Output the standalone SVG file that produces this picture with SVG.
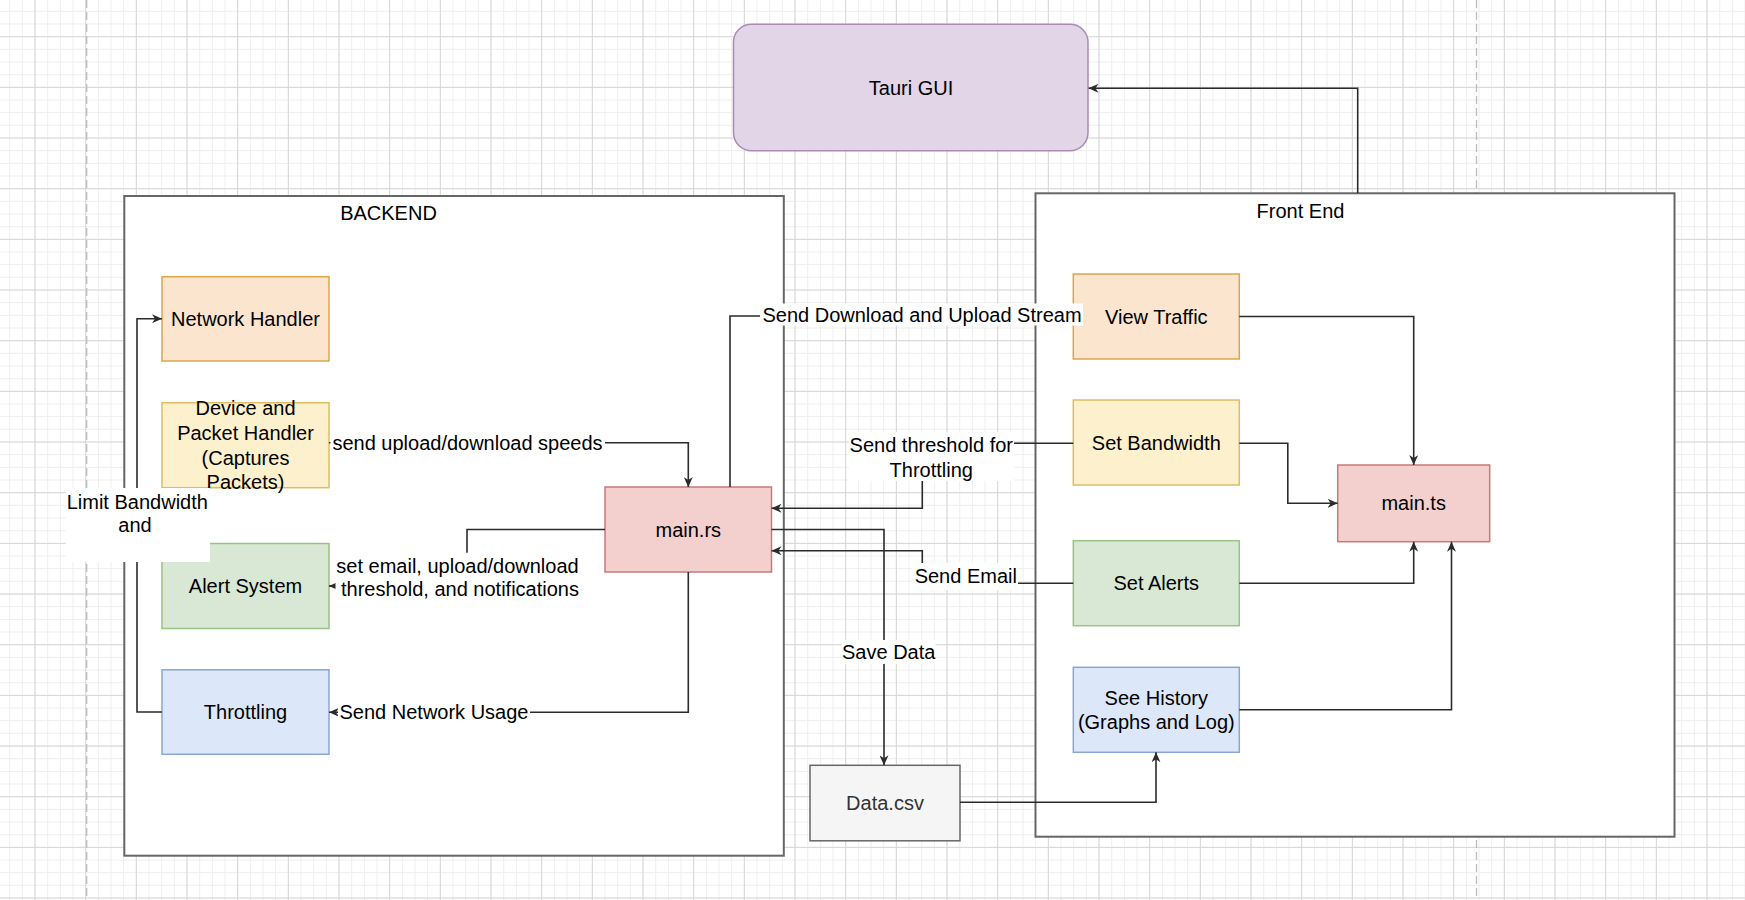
<svg xmlns="http://www.w3.org/2000/svg" width="1745" height="900" viewBox="0 0 1745 900">
  <style>
    text { font-family: "Liberation Sans", Arial, Helvetica, sans-serif; font-size: 20px; fill: #000; }
    .c { text-anchor: middle; }
    .container { fill: #ffffff; stroke: #666666; stroke-width: 2; }
    .orange { fill: #fbe5cf; stroke: #dba54c; stroke-width: 1.5; }
    .yellow { fill: #fdf1cd; stroke: #dcbd62; stroke-width: 1.5; }
    .green { fill: #d9e8d5; stroke: #9ac186; stroke-width: 1.5; }
    .blue { fill: #dce7f9; stroke: #8aa6d3; stroke-width: 1.5; }
    .red { fill: #f3cfcd; stroke: #c97a77; stroke-width: 1.5; }
    .purple { fill: #e1d5e7; stroke: #a98bb8; stroke-width: 1.5; }
    .gray { fill: #f5f5f5; stroke: #666666; stroke-width: 1.5; }
    .edge { fill: none; stroke: #2b2b2b; stroke-width: 1.6; }
    .arrow { marker-end: url(#arr); }
    .lbl { fill: #ffffff; stroke: none; }
    .pageline { stroke: #bdbdbd; stroke-width: 1.3; stroke-dasharray: 8 4; }
  </style>
  <defs>
    <pattern id="gMinor" patternUnits="userSpaceOnUse" x="9.17" y="10.83" width="12.667" height="12.667">
      <path d="M0 0.5H12.667M0.5 0V12.667" stroke="#eeeeee" stroke-width="1" fill="none"/>
    </pattern>
    <pattern id="gMajor" patternUnits="userSpaceOnUse" x="34.5" y="36.2" width="50.667" height="50.667">
      <path d="M0 0.5H50.667M0.5 0V50.667" stroke="#d6d6d6" stroke-width="1" fill="none"/>
    </pattern>
    <marker id="arr" markerUnits="userSpaceOnUse" viewBox="0 0 10 9" refX="10" refY="4.5" markerWidth="10" markerHeight="9" orient="auto">
      <path d="M0,0 L10,4.5 L0,9 L3,4.5 Z" fill="#2b2b2b"/>
    </marker>
  </defs>

  <g id="background">
    <rect x="0" y="0" width="1745" height="900" fill="#ffffff"/>
    <rect x="0" y="0" width="1745" height="900" fill="url(#gMinor)"/>
    <rect x="0" y="0" width="1745" height="900" fill="url(#gMajor)"/>
    <line class="pageline" x1="86.7" y1="0" x2="86.7" y2="900"/>
    <line class="pageline" x1="1476.5" y1="0" x2="1476.5" y2="900"/>
  </g>

  <g id="backend">
    <rect class="container" x="124.3" y="196" width="659.5" height="659.7"/>
    <text class="c" x="388.5" y="220">BACKEND</text>
  </g>
  <g id="frontend">
    <rect class="container" x="1035.5" y="193.3" width="639" height="643.4"/>
    <text class="c" x="1300.5" y="217.7">Front End</text>
  </g>

  <g id="tauri-gui">
    <rect class="purple" x="733.5" y="24.3" width="354.5" height="126.5" rx="18" ry="18"/>
    <text class="c" x="911" y="95">Tauri GUI</text>
  </g>

  <g id="network-handler">
    <rect class="orange" x="162" y="276.7" width="167" height="84.3"/>
    <text class="c" x="245.5" y="325.7">Network Handler</text>
  </g>
  <g id="device-packet-handler">
    <rect class="yellow" x="162" y="402.7" width="167" height="85"/>
    <text class="c" x="245.5" y="415">Device and</text>
    <text class="c" x="245.5" y="440">Packet Handler</text>
    <text class="c" x="245.5" y="465">(Captures</text>
    <text class="c" x="245.5" y="489">Packets)</text>
  </g>
  <g id="alert-system">
    <rect class="green" x="162" y="543.5" width="167" height="85"/>
    <text class="c" x="245.5" y="593">Alert System</text>
  </g>
  <g id="throttling">
    <rect class="blue" x="162" y="669.8" width="167" height="84.5"/>
    <text class="c" x="245.5" y="719">Throttling</text>
  </g>
  <g id="main-rs">
    <rect class="red" x="605" y="487" width="166.5" height="85"/>
    <text class="c" x="688.3" y="536.5">main.rs</text>
  </g>
  <g id="data-csv">
    <rect class="gray" x="810" y="765.3" width="150" height="75.5"/>
    <text class="c" x="885" y="810" style="fill:#333333">Data.csv</text>
  </g>
  <g id="view-traffic">
    <rect class="orange" x="1073.3" y="274" width="166" height="85"/>
    <text class="c" x="1156.3" y="323.5">View Traffic</text>
  </g>
  <g id="set-bandwidth">
    <rect class="yellow" x="1073.3" y="400" width="166" height="85"/>
    <text class="c" x="1156.3" y="449.5">Set Bandwidth</text>
  </g>
  <g id="set-alerts">
    <rect class="green" x="1073.3" y="540.7" width="166" height="85"/>
    <text class="c" x="1156.3" y="590.2">Set Alerts</text>
  </g>
  <g id="see-history">
    <rect class="blue" x="1073.3" y="667.3" width="166" height="85"/>
    <text class="c" x="1156.3" y="705.3">See History</text>
    <text class="c" x="1156.3" y="729.3">(Graphs and Log)</text>
  </g>
  <g id="main-ts">
    <rect class="red" x="1337.7" y="465" width="152" height="76.7"/>
    <text class="c" x="1413.7" y="510.3">main.ts</text>
  </g>

  <g id="connectors">
    <path class="edge arrow" d="M1357.7,193.3 V88.3 H1088.5"/>
    <path class="edge arrow" d="M1239.3,316.5 H1413.7 V465"/>
    <path class="edge arrow" d="M1239.3,443.3 H1287.8 V503.3 H1337.7"/>
    <path class="edge arrow" d="M1239.3,583.3 H1413.7 V541.7"/>
    <path class="edge arrow" d="M1239.3,709.7 H1451.5 V541.7"/>
    <path class="edge arrow" d="M960,802.3 H1156 V752.3"/>

    <path class="edge arrow" d="M771.5,529.5 H884 V765.3"/>
    <rect class="lbl" x="842" y="640" width="93.5" height="24"/>
    <text class="c" x="888.7" y="659.3">Save Data</text>

    <path class="edge arrow" d="M1073.3,443.3 H922.3 V508.3 H771.5"/>
    <rect class="lbl" x="849" y="432" width="165" height="49"/>
    <text class="c" x="931.3" y="452">Send threshold for</text>
    <text class="c" x="931.3" y="477">Throttling</text>

    <path class="edge arrow" d="M1073.3,583.3 H922.3 V550.7 H771.5"/>
    <rect class="lbl" x="912" y="563" width="106" height="27"/>
    <text class="c" x="965.8" y="583">Send Email</text>

    <path class="edge arrow" d="M730,487 V316 H1073.3"/>
    <rect class="lbl" x="760" y="303.5" width="323" height="22"/>
    <text class="c" x="922" y="322">Send Download and Upload Stream</text>

    <path class="edge arrow" d="M329,442.7 H688.3 V487"/>
    <rect class="lbl" x="330.5" y="431" width="274.5" height="23"/>
    <text class="c" x="467.5" y="449.7">send upload/download speeds</text>

    <path class="edge arrow" d="M605,529.5 H467 V586 H329"/>
    <rect class="lbl" x="335.5" y="552.7" width="245" height="48"/>
    <text class="c" x="457.5" y="572.7">set email, upload/download</text>
    <text class="c" x="460" y="596">threshold, and notifications</text>

    <path class="edge arrow" d="M688.3,572 V712.3 H329"/>
    <rect class="lbl" x="338" y="701" width="192" height="23"/>
    <text class="c" x="434" y="719.3">Send Network Usage</text>

    <path class="edge arrow" d="M162,712 H137 V318.7 H162"/>
    <rect class="lbl" x="66" y="488" width="144" height="74"/>
    <text class="c" x="137.3" y="508.7">Limit Bandwidth</text>
    <text class="c" x="135" y="532">and</text>
  </g>
</svg>
